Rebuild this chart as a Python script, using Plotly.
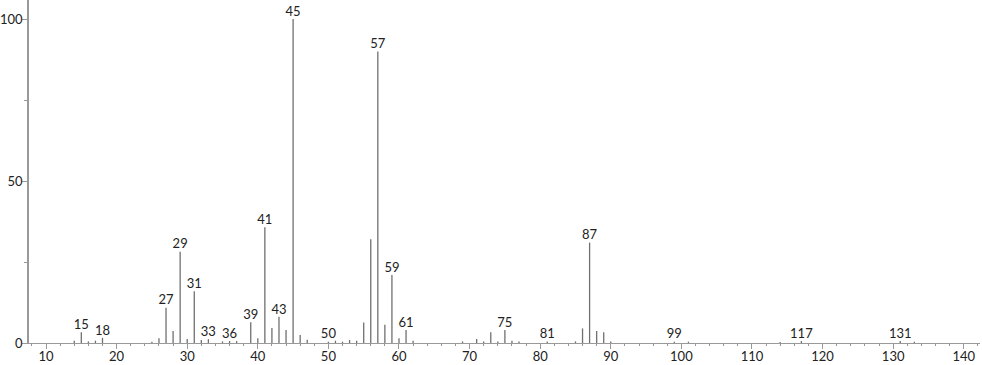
import plotly.graph_objects as go

mz = [14, 15, 16, 17, 18, 25, 26, 27, 28, 29, 30, 31, 32, 33, 35, 36, 37, 39, 40,
      41, 42, 43, 44, 45, 46, 47, 50, 51, 52, 53, 54, 55, 56, 57, 58, 59, 60, 61,
      62, 69, 71, 72, 73, 74, 75, 76, 77, 81, 85, 86, 87, 88, 89, 90, 99, 101,
      114, 117, 131, 133]
intensity = [0.7, 3.3, 0.5, 0.7, 1.6, 0.4, 1.5, 10.9, 3.7, 28.2, 1.2, 16.0, 0.9,
             1.2, 0.5, 0.6, 0.6, 6.4, 1.5, 35.7, 4.6, 8.1, 4.0, 100.0, 2.5, 1.0,
             0.4, 0.7, 0.4, 0.9, 0.7, 6.3, 32.0, 90.0, 5.6, 21.0, 1.5, 4.0, 0.7,
             0.5, 1.2, 0.5, 3.3, 0.5, 4.0, 0.7, 0.5, 0.5, 0.5, 4.5, 31.0, 3.7,
             3.3, 0.5, 0.4, 0.4, 0.3, 0.6, 0.6, 0.4]
labeled = [15, 18, 27, 29, 31, 33, 36, 39, 41, 43, 45, 50, 57, 59, 61, 75, 81, 87,
           99, 117, 131]
x_ticks = [10, 20, 30, 40, 50, 60, 70, 80, 90, 100, 110, 120, 130, 140]
y_ticks = [0, 50, 100]

# stick segments built from data
sx, sy = [], []
for m, v in zip(mz, intensity):
    sx += [m, m, None]
    sy += [0, v, None]

lookup = dict(zip(mz, intensity))
lx = labeled
ly = [lookup[m] for m in labeled]

fig = go.Figure()
fig.add_trace(go.Scatter(x=sx, y=sy, mode="lines",
                         line=dict(color="#707070", width=1.3),
                         hoverinfo="skip", showlegend=False))
fig.add_trace(go.Scatter(x=lx, y=ly, mode="text", text=[str(m) for m in lx],
                         textposition="top center",
                         textfont=dict(family="Lato", size=13, color="#222222"),
                         showlegend=False, cliponaxis=False))

fig.update_layout(
    width=982, height=365,
    margin=dict(l=29, r=2, t=0, b=22),
    paper_bgcolor="white", plot_bgcolor="white",
    font=dict(family="Lato", size=13, color="#222222"),
)
fig.update_xaxes(range=[7.59, 142.3], tickvals=x_ticks, ticktext=[str(t) for t in x_ticks],
                 automargin=False, ticklabelstandoff=-4,
                 showgrid=False, zeroline=False, showline=True, linecolor="#999999",
                 linewidth=1, ticks="outside", ticklen=5, tickcolor="#999999",
                 minor=dict(dtick=2, ticks="outside", ticklen=2, tickcolor="#999999", showgrid=False),
                 tickfont=dict(family="Lato", size=13, color="#222222"))
fig.update_yaxes(range=[0, 105.9], tickvals=y_ticks, ticktext=[str(t) for t in y_ticks],
                 automargin=False, ticklabelstandoff=-3,
                 showgrid=False, zeroline=False, showline=True, linecolor="#999999",
                 linewidth=1.5, ticks="outside", ticklen=5, tickcolor="#999999",
                 minor=dict(tickvals=[25, 75], ticks="outside", ticklen=3, tickcolor="#999999", showgrid=False),
                 tickfont=dict(family="Lato", size=13, color="#222222"))

fig.write_html("out.html")
